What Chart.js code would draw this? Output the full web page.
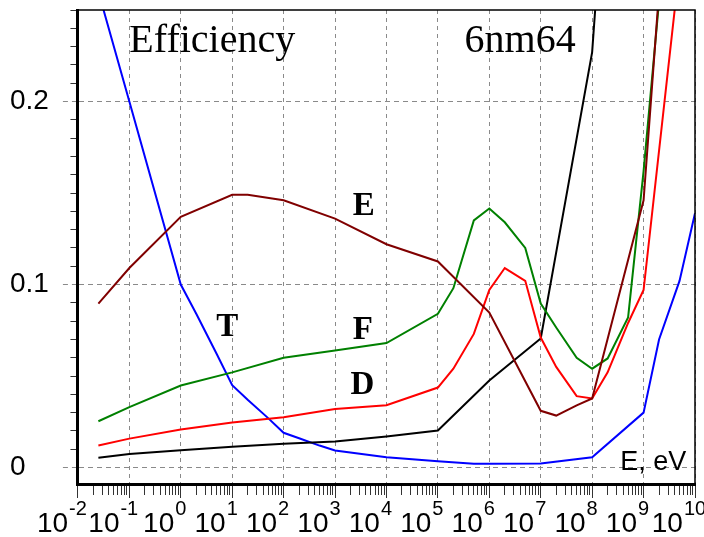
<!DOCTYPE html>
<html>
<head>
<meta charset="utf-8">
<title>Efficiency 6nm64</title>
<script src="https://cdn.jsdelivr.net/npm/chart.js@4.4.1/dist/chart.umd.min.js"></script>
<style>
  body { margin: 0; background: #fff; }
  #wrap { width: 704px; height: 537px; }
</style>
</head>
<body>
<div id="wrap"><canvas id="eff" width="704" height="537"></canvas></div>
<script>
// neutron energy in eV, efficiency
var energyT = [0.025, 0.1, 1, 2, 5, 10, 20, 50, 100, 200, 500, 1e3, 1e4, 1e5, 5e5, 1e6, 1e7, 1e8, 1e9, 2e9, 5e9, 1e10];
var effT = [0.26, 0.2, 0.1, 0.084, 0.062, 0.045, 0.037, 0.027, 0.019, 0.016, 0.012, 0.0093, 0.0056, 0.0034, 0.002, 0.002, 0.0022, 0.0056, 0.030, 0.070, 0.102, 0.139];

var energyE = [0.025, 0.1, 1, 10, 20, 100, 1e3, 1e4, 1e5, 1e6, 1e7, 2e7, 5e7, 1e8, 1e9, 1e10];
var effE = [0.0896, 0.109, 0.137, 0.149, 0.149, 0.146, 0.136, 0.122, 0.1126, 0.0847, 0.031, 0.0284, 0.034, 0.0377, 0.146, 0.525];

var energyF = [0.025, 0.1, 1, 10, 100, 1e3, 1e4, 1e5, 2e5, 5e5, 1e6, 2e6, 5e6, 1e7, 2e7, 5e7, 1e8, 2e8, 5e8, 1e9, 1e10];
var effF = [0.0253, 0.033, 0.0448, 0.052, 0.060, 0.064, 0.068, 0.084, 0.098, 0.135, 0.1415, 0.134, 0.120, 0.0896, 0.0765, 0.060, 0.054, 0.0596, 0.082, 0.162, 0.47];

var energyD = [0.025, 0.1, 1, 10, 100, 1e3, 1e4, 1e5, 2e5, 5e5, 1e6, 2e6, 5e6, 1e7, 2e7, 5e7, 1e8, 2e8, 5e8, 1e9, 1e10];
var effD = [0.012, 0.0158, 0.0208, 0.0246, 0.0275, 0.032, 0.034, 0.0437, 0.054, 0.073, 0.097, 0.109, 0.102, 0.071, 0.055, 0.039, 0.0377, 0.052, 0.079, 0.097, 0.35];

var energyK = [0.025, 0.1, 1, 10, 100, 1e3, 1e4, 1e5, 1e6, 1e7, 1e8, 1e9];
var effK = [0.0053, 0.0074, 0.0095, 0.0113, 0.013, 0.0142, 0.017, 0.0202, 0.0475, 0.0705, 0.227, 0.62];

var xDecades = [-2, -1, 0, 1, 2, 3, 4, 5, 6, 7, 8, 9, 10];
var yLabels = [0, 0.1, 0.2];

var notes = [
    { text: 'Efficiency', x: 0.1, y: 0.227, font: '40px "Liberation Serif"' },
    { text: '6nm64', x: 3.3e5, y: 0.227, font: '40px "Liberation Serif"' },
    { text: 'E', x: 2.2e3, y: 0.138, font: 'bold 33px "Liberation Serif"' },
    { text: 'F', x: 2.2e3, y: 0.0705, font: 'bold 33px "Liberation Serif"' },
    { text: 'D', x: 2.0e3, y: 0.040, font: 'bold 33px "Liberation Serif"' },
    { text: 'T', x: 4.9, y: 0.072, font: 'bold 33px "Liberation Serif"' },
    { text: 'E, eV', x: 3.5e8, y: -0.0016, font: '27px "Liberation Sans"' }
];

function pts(xs, ys) {
    return xs.map(function (x, i) { return { x: x, y: ys[i] }; });
}

function isDecade(v) {
    var l = Math.log10(v);
    return Math.abs(l - Math.round(l)) < 1e-9;
}

function isYMajor(v) {
    return yLabels.some(function (l) { return Math.abs(l - v) < 1e-6; });
}

function line(data, color) {
    return { data: data, borderColor: color, borderWidth: 2, pointRadius: 0, tension: 0, fill: false };
}

var extras = {
    id: 'extras',
    afterDraw: function (chart) {
        var ctx = chart.ctx, area = chart.chartArea;
        var xs = chart.scales.x, ys = chart.scales.y;
        ctx.save();
        ctx.strokeStyle = '#000';
        ctx.lineWidth = 1.5;
        ctx.beginPath();
        ctx.moveTo(area.left, area.top);
        ctx.lineTo(area.right, area.top);
        ctx.lineTo(area.right, area.bottom);
        ctx.stroke();

        ctx.fillStyle = '#000';
        ctx.textBaseline = 'alphabetic';
        xDecades.forEach(function (k) {
            var px = xs.getPixelForValue(Math.pow(10, k));
            var exp = String(k);
            ctx.font = '20px "Liberation Sans"';
            var we = ctx.measureText(exp).width;
            ctx.textAlign = 'left';
            ctx.fillText(exp, px - we / 2, area.bottom + 31);
            ctx.font = '28px "Liberation Sans"';
            ctx.textAlign = 'right';
            ctx.fillText('10', px - we / 2 - 1, area.bottom + 48);
        });

        ctx.textAlign = 'left';
        notes.forEach(function (n) {
            ctx.font = n.font;
            ctx.fillText(n.text, xs.getPixelForValue(n.x), ys.getPixelForValue(n.y));
        });
        ctx.restore();
    }
};

Chart.defaults.font.family = '"Liberation Sans", Arial, sans-serif';

new Chart(document.getElementById('eff'), {
    type: 'line',
    data: {
        datasets: [
            line(pts(energyE, effE), '#800000'),
            line(pts(energyD, effD), '#ff0000'),
            line(pts(energyF, effF), '#008000'),
            line(pts(energyK, effK), '#000000'),
            line(pts(energyT, effT), '#0000ff')
        ]
    },
    options: {
        responsive: false,
        animation: false,
        layout: { padding: { left: 10, top: 10, right: 9, bottom: 39 } },
        plugins: {
            legend: { display: false },
            tooltip: { enabled: false }
        },
        scales: {
            x: {
                type: 'logarithmic',
                min: 0.01,
                max: 1e10,
                afterBuildTicks: function (scale) {
                    var t = [];
                    for (var k = -2; k < 10; k++) {
                        for (var m = 1; m < 10; m++) {
                            t.push({ value: m * Math.pow(10, k) });
                        }
                    }
                    t.push({ value: 1e10 });
                    scale.ticks = t;
                },
                afterFit: function (scale) {
                    scale.paddingLeft = 0;
                    scale.paddingRight = 0;
                },
                ticks: { display: false },
                border: { display: true, color: '#000', width: 3, dash: [4, 4] },
                grid: {
                    color: function (c) { return c.tick && isDecade(c.tick.value) ? '#8a8a8a' : 'rgba(0,0,0,0)'; },
                    lineWidth: 1,
                    tickLength: 14,
                    tickColor: '#333',
                    tickBorderDash: function (c) { return c.tick && isDecade(c.tick.value) ? [] : [9, 30]; }
                }
            },
            y: {
                type: 'linear',
                min: -0.009,
                max: 0.25,
                afterBuildTicks: function (scale) {
                    var t = [];
                    for (var i = 0; i <= 25; i++) t.push({ value: i / 100 });
                    scale.ticks = t;
                },
                afterFit: function (scale) {
                    scale.paddingTop = 0;
                    scale.paddingBottom = 0;
                },
                ticks: {
                    autoSkip: false,
                    padding: 7,
                    crossAlign: 'far',
                    color: '#000',
                    font: { size: 28 },
                    callback: function (v) {
                        for (var i = 0; i < yLabels.length; i++) {
                            if (Math.abs(yLabels[i] - v) < 1e-6) return String(yLabels[i]);
                        }
                        return '';
                    }
                },
                border: { display: true, color: '#000', width: 3, dash: [5, 4] },
                grid: {
                    color: function (c) { return c.tick && isYMajor(c.tick.value) ? '#8a8a8a' : 'rgba(0,0,0,0)'; },
                    lineWidth: 1,
                    tickLength: 15,
                    tickColor: function (c) { return c.tick && isYMajor(c.tick.value) ? '#8a8a8a' : '#333'; },
                    tickBorderDash: function (c) { return c.tick && isYMajor(c.tick.value) ? [5, 4] : [0, 7.5, 6, 40]; }
                }
            }
        }
    },
    plugins: [extras]
});
</script>
</body>
</html>
